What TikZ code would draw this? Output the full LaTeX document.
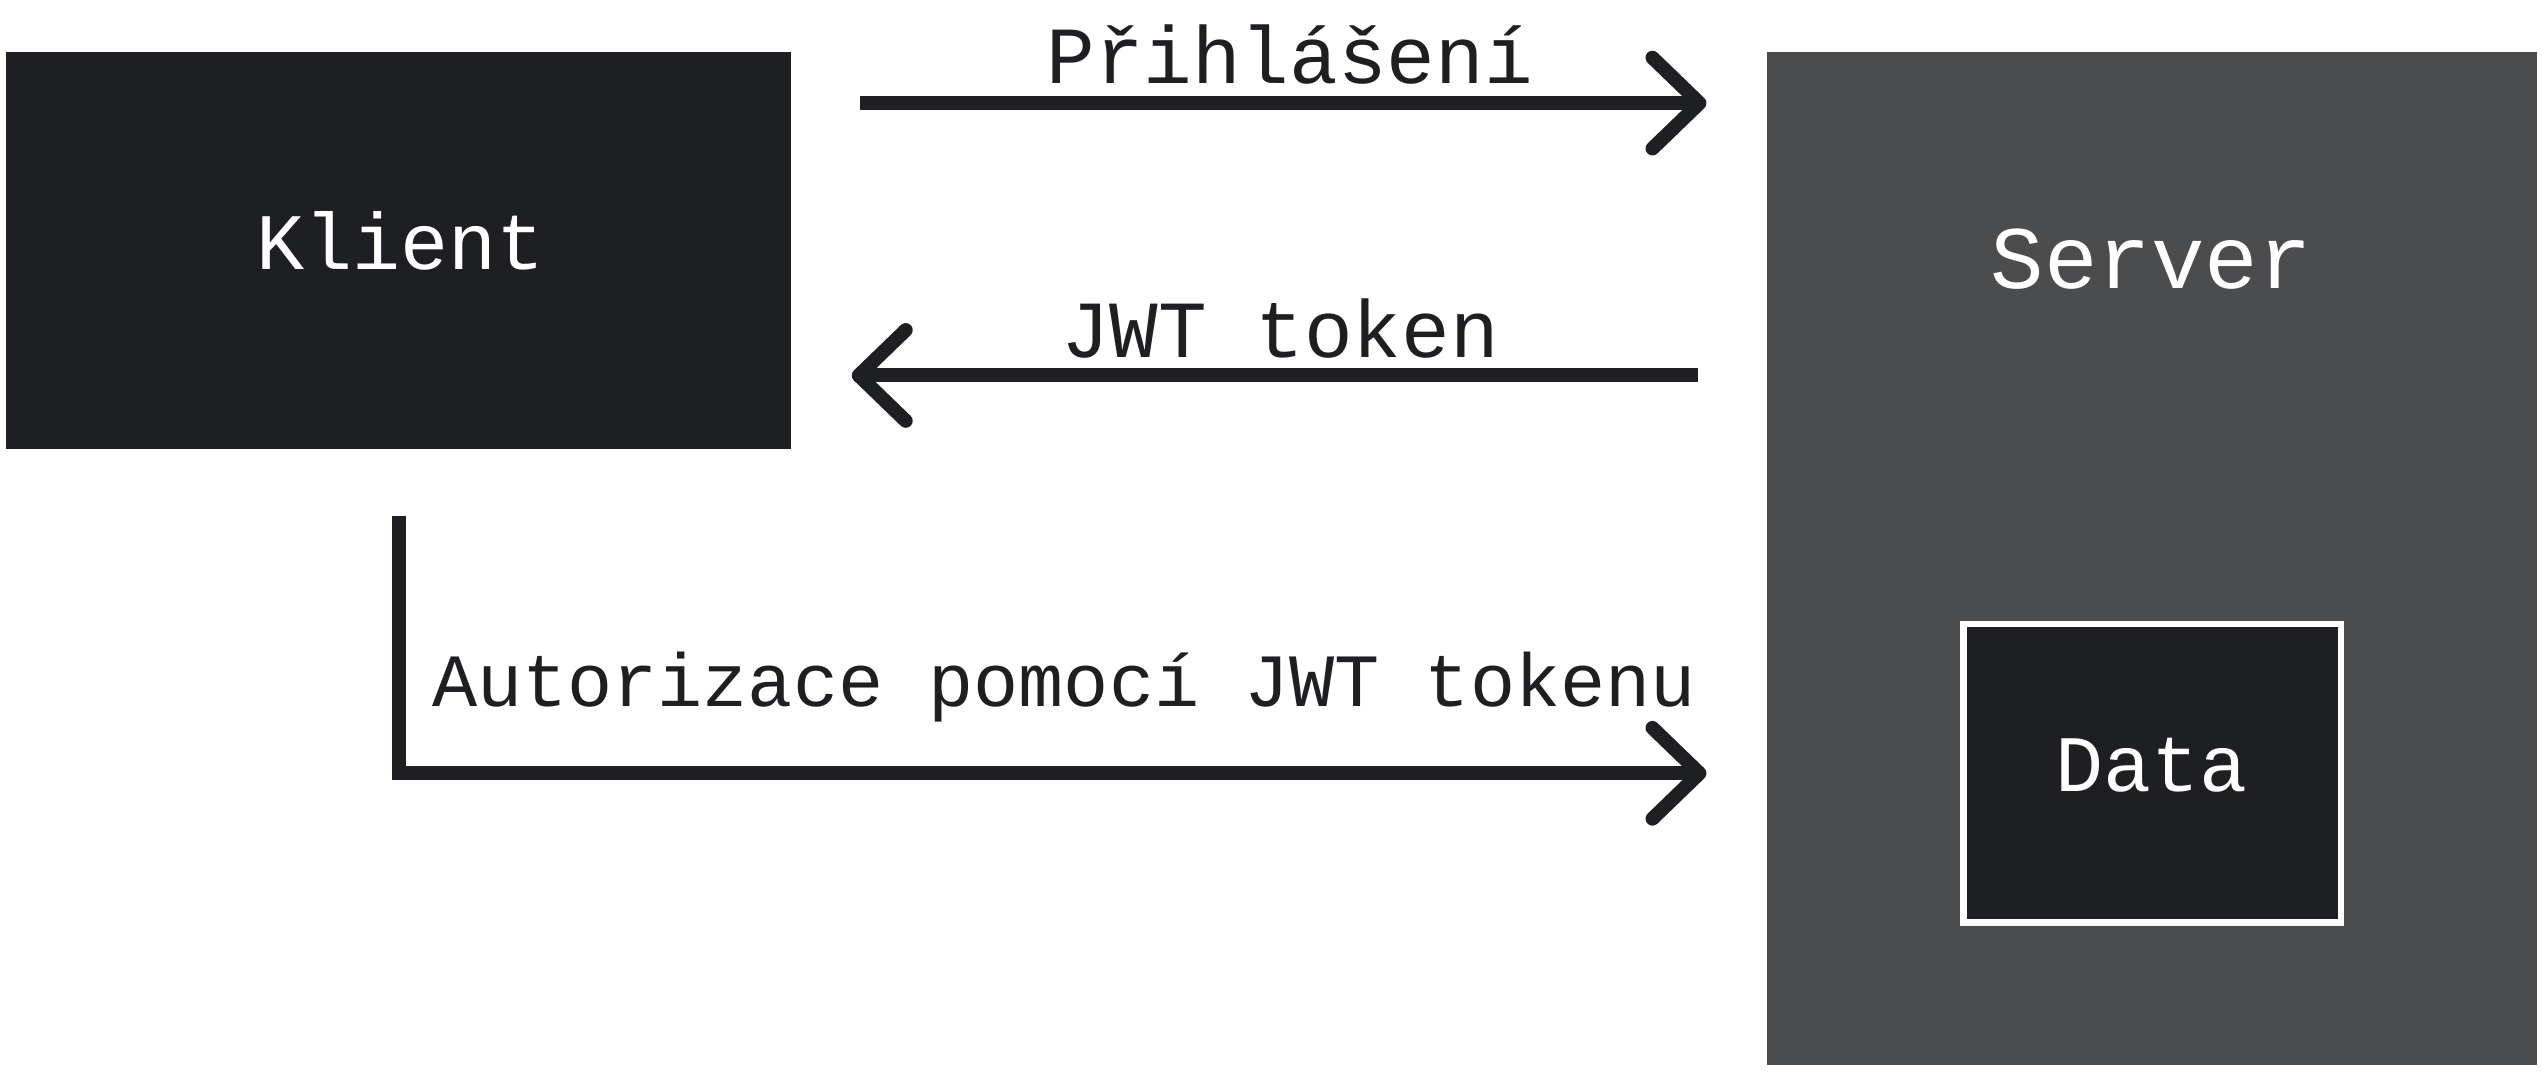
\documentclass[tikz,border=0pt]{standalone}
\usepackage{fontspec}
\setmainfont{Liberation Mono}
\usetikzlibrary{arrows.meta,calc}
\definecolor{darkbox}{HTML}{1E1F22}
\definecolor{greybox}{HTML}{4B4C4E}
\tikzset{
  boxdark/.style={draw=none,fill=darkbox,rectangle,inner sep=0pt},
  boxgrey/.style={draw=none,fill=greybox,rectangle,inner sep=0pt},
  boxdata/.style={draw=white,line width=2pt,fill=darkbox,rectangle,inner sep=0pt},
  wtext/.style={text=white,inner sep=0pt,anchor=base},
  arr/.style={draw=darkbox,line width=4.3pt,line cap=butt,line join=miter,
    -{Straight Barb[length=14.5pt,width=28pt,line cap=round,line join=round]}},
  lbl/.style={text=darkbox,inner sep=0pt,anchor=base,font=\fontsize{25pt}{28pt}\selectfont}
}
\begin{document}
\begin{tikzpicture}[x=0.5pt,y=-0.5pt]
\useasboundingbox (0,0) rectangle (1568,662.4);
% boxes
\node[boxdark,minimum width=242pt,minimum height=122.5pt] (klient) at (246,154.5) {};
\node[boxgrey,minimum width=237.5pt,minimum height=312.5pt] (server) at (1327.5,344.5) {};
\node[boxdata,minimum width=116.5pt,minimum height=92pt] (data) at (1327.5,477) {};
% texts
\node[wtext,font=\fontsize{24.7pt}{28pt}\selectfont] (klienttxt) at (247,166) {Klient};
\node[wtext,font=\fontsize{27.5pt}{30pt}\selectfont] (servertxt) at (1327,178) {Server};
\node[wtext,font=\fontsize{24.7pt}{28pt}\selectfont] (datatxt) at (1327,488) {Data};
% connectors
\coordinate (a1s) at ($(klient.north east)+(42,32)$);
\coordinate (a1e) at ($(server.north west)+(-37,32)$);
\coordinate (a2s) at ($(server.north west)+(-42,200)$);
\coordinate (a2e) at ($(klient.north east)+(37,200)$);
\coordinate (a3s) at ($(klient.south)+(0,41)$);
\coordinate (a3e) at ($(server.west |- data.west)+(-37,0)$);
\draw[arr] (a1s) -- (a1e) node[lbl,midway,yshift=6pt,xshift=2pt] (l1) {Přihlášení};
\draw[arr] (a2s) -- (a2e) node[lbl,midway,yshift=5.5pt,xshift=1.5pt] (l2) {JWT token};
\draw[arr] (a3s) |- (a3e) node[lbl,pos=0.75,yshift=20.5pt,xshift=3.5pt,font=\fontsize{23.2pt}{26pt}\selectfont] (l3) {Autorizace pomocí JWT tokenu};
\end{tikzpicture}
\end{document}
